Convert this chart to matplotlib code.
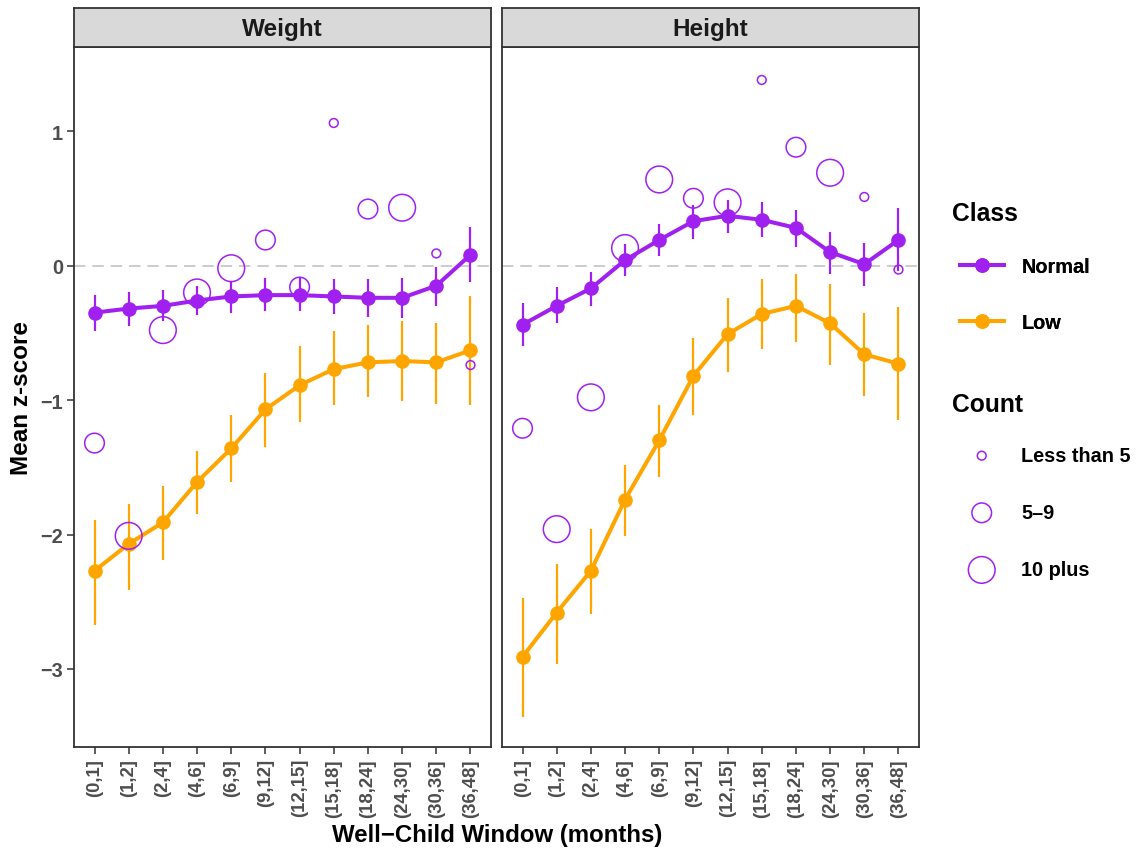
import numpy as np
import matplotlib
matplotlib.use("Agg")
import matplotlib.pyplot as plt
from matplotlib.lines import Line2D

plt.rcParams['font.family'] = ['Liberation Sans', 'DejaVu Sans']
plt.rcParams['font.weight'] = 'bold'

windows = ['(0,1]', '(1,2]', '(2,4]', '(4,6]', '(6,9]', '(9,12]',
           '(12,15]', '(15,18]', '(18,24]', '(24,30]', '(30,36]', '(36,48]']

# Weight: mean z-score and interval per window
w_norm = [-0.35, -0.32, -0.30, -0.26, -0.23, -0.22, -0.22, -0.23, -0.24, -0.24, -0.15, 0.08]
w_norm_lo = [-0.49, -0.45, -0.41, -0.37, -0.35, -0.34, -0.34, -0.36, -0.38, -0.39, -0.30, -0.12]
w_norm_hi = [-0.22, -0.20, -0.18, -0.15, -0.12, -0.09, -0.09, -0.10, -0.10, -0.09, -0.01, 0.29]
w_low = [-2.27, -2.07, -1.91, -1.61, -1.36, -1.07, -0.89, -0.77, -0.72, -0.71, -0.72, -0.63]
w_low_lo = [-2.67, -2.41, -2.19, -1.85, -1.61, -1.35, -1.16, -1.04, -0.98, -1.01, -1.03, -1.04]
w_low_hi = [-1.89, -1.77, -1.64, -1.38, -1.11, -0.80, -0.60, -0.49, -0.44, -0.41, -0.43, -0.23]
w_extra = [-1.32, -2.01, -0.48, -0.20, -0.02, 0.19, -0.16, 1.06, 0.42, 0.43, 0.09, -0.74]
w_count = ['5-9', '10+', '10+', '10+', '10+', '5-9', '5-9', '<5', '5-9', '10+', '<5', '<5']

# Height
h_norm = [-0.44, -0.30, -0.17, 0.04, 0.19, 0.33, 0.37, 0.34, 0.28, 0.10, 0.01, 0.19]
h_norm_lo = [-0.60, -0.43, -0.30, -0.08, 0.07, 0.20, 0.24, 0.21, 0.14, -0.06, -0.15, -0.04]
h_norm_hi = [-0.28, -0.16, -0.05, 0.16, 0.31, 0.45, 0.49, 0.47, 0.41, 0.25, 0.17, 0.43]
h_low = [-2.91, -2.58, -2.27, -1.74, -1.30, -0.82, -0.51, -0.36, -0.30, -0.43, -0.66, -0.73]
h_low_lo = [-3.36, -2.96, -2.59, -2.01, -1.57, -1.11, -0.79, -0.62, -0.57, -0.74, -0.97, -1.15]
h_low_hi = [-2.47, -2.22, -1.96, -1.48, -1.04, -0.54, -0.24, -0.10, -0.06, -0.14, -0.35, -0.31]
h_extra = [-1.21, -1.96, -0.98, 0.13, 0.64, 0.50, 0.47, 1.38, 0.88, 0.69, 0.51, -0.03]
h_count = ['5-9', '10+', '10+', '10+', '10+', '5-9', '10+', '<5', '5-9', '10+', '<5', '<5']

count_labels = {'<5': 'Less than 5', '5-9': '5\u20139', '10+': '10 plus'}
count_size = {'<5': 40, '5-9': 200, '10+': 370}

purple = '#A020F0'
orange = '#FFA500'
grey_txt = '#4D4D4D'

panels = [
    ('Weight', w_norm, w_norm_lo, w_norm_hi, w_low, w_low_lo, w_low_hi, w_extra, w_count),
    ('Height', h_norm, h_norm_lo, h_norm_hi, h_low, h_low_lo, h_low_hi, h_extra, h_count),
]

fig = plt.figure(figsize=(11.43, 8.53), dpi=100)
W, H = 1143, 853
lefts = [74, 502]
pw, top, bot = 417, 48, 748
strip_h = 39

x = np.arange(1, len(windows) + 1)
axes = []
for i, (name, nm, nlo, nhi, lw_, llo, lhi, ex, cnt) in enumerate(panels):
    ax = fig.add_axes([lefts[i] / W, 1 - bot / H, pw / W, (bot - top) / H])
    axes.append(ax)
    ax.axhline(0, color='#BEBEBE', lw=1.1, ls=(0, (7.5, 4.5)), zorder=1)
    for m, lo, hi, c in [(lw_, llo, lhi, orange), (nm, nlo, nhi, purple)]:
        ax.vlines(x, lo, hi, color=c, lw=1.6, zorder=2)
        ax.plot(x, m, color=c, lw=2.9, marker='o', ms=10.5, mew=0, zorder=3)
    sizes = [count_size[c] for c in cnt]
    ax.scatter(x, ex, s=sizes, facecolors='none', edgecolors=purple, linewidths=1.1, zorder=4)
    ax.set_xlim(0.4, 12.6)
    ax.set_ylim(-3.58, 1.625)
    ax.set_xticks(x)
    ax.set_xticklabels(windows, rotation=90, fontsize=13.3, color=grey_txt, fontweight='bold')
    ax.set_yticks([-3, -2, -1, 0, 1])
    if i == 0:
        ax.set_yticklabels(['\u22123', '\u22122', '\u22121', '0', '1'], fontsize=14.3,
                           color=grey_txt, fontweight='bold')
    else:
        ax.tick_params(axis='y', left=False, labelleft=False)
    ax.tick_params(length=5, width=1.1, color='#333333', pad=3)
    for s in ax.spines.values():
        s.set_color('#333333')
        s.set_linewidth(1.3)
    # facet strip
    sax = fig.add_axes([lefts[i] / W, 1 - top / H, pw / W, strip_h / H])
    sax.set_facecolor('#D9D9D9')
    sax.set_xticks([])
    sax.set_yticks([])
    for s in sax.spines.values():
        s.set_color('#333333')
        s.set_linewidth(1.3)
    sax.text(0.5, 0.47, name, ha='center', va='center', fontsize=17.5,
             fontweight='bold', color='#1A1A1A', transform=sax.transAxes)

fig.text(22 / W, 1 - 398 / H, 'Mean z-score', rotation=90, ha='center', va='center',
         fontsize=17.5, fontweight='bold')
fig.text(497 / W, 1 - 836 / H, 'Well\u2212Child Window (months)', ha='center', va='center',
         fontsize=17.3, fontweight='bold')

# legends: titles placed as text, keys through fig.legend
fig.text(952 / W, 1 - 214 / H, 'Class', ha='left', va='center', fontsize=17.7, fontweight='bold')
fig.text(952 / W, 1 - 405 / H, 'Count', ha='left', va='center', fontsize=17.7, fontweight='bold')

class_handles = [
    Line2D([], [], color=purple, lw=2.9, marker='o', ms=10.5, mew=0, label='Normal'),
    Line2D([], [], color=orange, lw=2.9, marker='o', ms=10.5, mew=0, label='Low'),
]
leg1 = fig.legend(handles=class_handles, loc='upper left',
                  bbox_to_anchor=(942 / W, 1 - 240 / H), frameon=False,
                  fontsize=14.3, handlelength=2.2,
                  labelspacing=1.86, handletextpad=0.9)

count_handles = [
    plt.scatter([], [], s=count_size[k], facecolors='none', edgecolors=purple,
                linewidths=1.1, label=count_labels[k])
    for k in ['<5', '5-9', '10+']
]
leg2 = fig.legend(handles=count_handles, loc='upper left',
                  bbox_to_anchor=(942 / W, 1 - 429 / H), frameon=False,
                  fontsize=14.3, handlelength=2.2,
                  labelspacing=1.92, handletextpad=0.9, scatterpoints=1)
fig.add_artist(leg1)

fig.savefig('out.png', dpi=100, facecolor='white')
